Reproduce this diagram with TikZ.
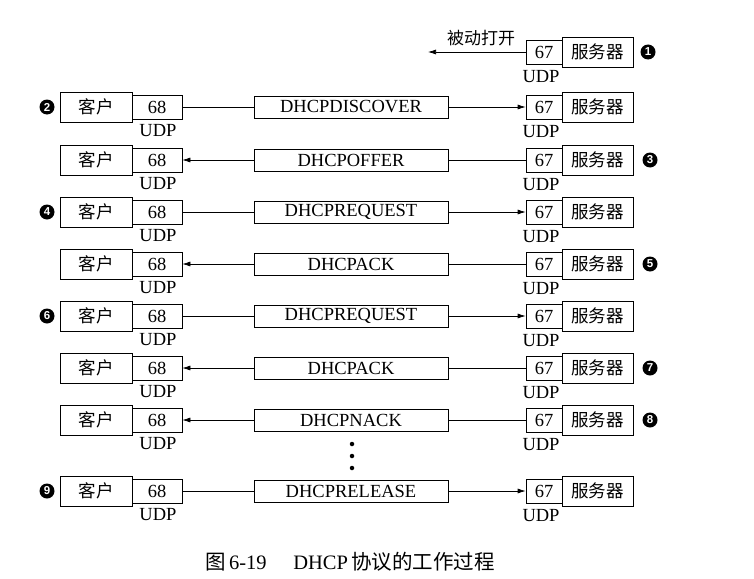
\documentclass[tikz,border=0pt]{standalone}
\usepackage{fontspec}
\setmainfont{Liberation Serif}
\newfontfamily\cjk{Noto Sans CJK SC}
\newfontfamily\mkfont{Liberation Sans}
\usetikzlibrary{arrows.meta}
\begin{document}
\begin{tikzpicture}[x=1pt,y=-1pt,
  bigbox/.style={draw, line width=0.7pt, minimum height=30pt, inner sep=0pt, font=\cjk\fontsize{17.5}{20}\selectfont},
  port/.style={draw, line width=0.7pt, fill=white, minimum height=24pt, inner sep=0pt, font=\fontsize{18.5}{20}\selectfont},
  msg/.style={draw, line width=0.7pt, minimum width=194pt, minimum height=22pt, inner sep=0pt, font=\fontsize{18.5}{20}\selectfont},
  udp/.style={inner sep=0pt, font=\fontsize{18.5}{20}\selectfont},
  badge/.style={circle, fill=black, text=white, minimum size=15pt, inner sep=0pt, font=\mkfont\bfseries\fontsize{11.5}{12}\selectfont},
  conn/.style={line width=0.7pt},
  arr/.style={line width=0.7pt, -{Latex[length=8pt,width=5pt]}},
  dot/.style={circle, fill=black, minimum size=4.5pt, inner sep=0pt}
]
\useasboundingbox (0,0) rectangle (754,578);

% row 1: passive open
\node[bigbox, minimum width=71pt] (s1) at (597.5,52) {服务器};
\node[port, minimum width=36pt] (q1) at (544,52) {67};
\node[udp] (us1) at (541,77) {UDP};
\coordinate (a1) at (428,52);
\draw[arr] (q1.west) -- (a1);
\node[inner sep=0pt, font=\cjk\fontsize{17}{20}\selectfont] (l1) at (481,38) {被动打开};
\node[badge] (b1) at (648,52) {1};

% message rows
\foreach \i/\y/\msgtext/\dir in {
  2/107/DHCPDISCOVER/1,
  3/160/DHCPOFFER/0,
  4/212/DHCPREQUEST/1,
  5/264/DHCPACK/0,
  6/316/DHCPREQUEST/1,
  7/368/DHCPACK/0,
  8/420/DHCPNACK/0,
  9/491/DHCPRELEASE/1}{
  \node[bigbox, minimum width=72pt] (c\i) at (96,\y) {客户};
  \node[port, minimum width=50pt] (p\i) at (157,\y) {68};
  \node[udp] (uc\i) at (158,\y+24) {UDP};
  \node[msg] (m\i) at (351,\y) {\msgtext};
  \node[bigbox, minimum width=71pt] (s\i) at (597.5,\y) {服务器};
  \node[port, minimum width=36pt] (q\i) at (544,\y) {67};
  \node[udp] (us\i) at (541,\y+25) {UDP};
  \ifnum\dir=1
    \draw[conn] (p\i.east) -- (m\i.west);
    \draw[arr] (m\i.east) -- (q\i.west);
    \node[badge] (b\i) at (47,\y) {\i};
  \else
    \draw[conn] (q\i.west) -- (m\i.east);
    \draw[arr] (m\i.west) -- (p\i.east);
    \node[badge] (b\i) at (650,\y) {\i};
  \fi
}

% ellipsis dots
\node[dot] (d1) at (352,444) {};
\node[dot] (d2) at (352,456) {};
\node[dot] (d3) at (352,468) {};

% caption
\node[inner sep=0pt, font=\fontsize{20.5}{22}\selectfont] (cap) at (350,562)
  {{\cjk 图}\,6-19\hspace{1.3em}DHCP\,{\cjk 协议的工作过程}};
\end{tikzpicture}
\end{document}
